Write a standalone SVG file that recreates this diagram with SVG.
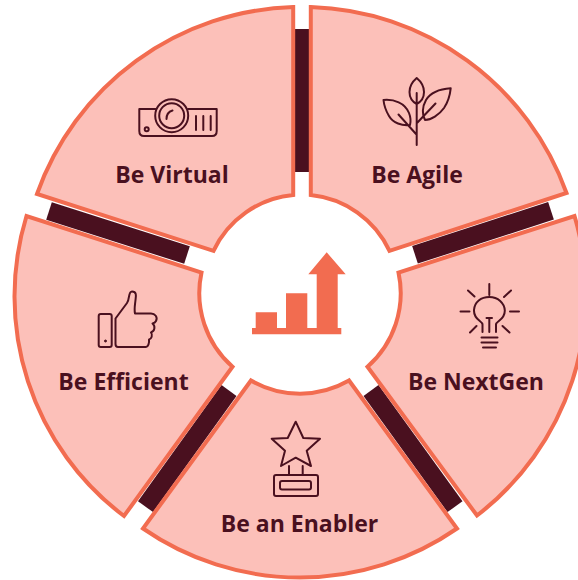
<svg xmlns="http://www.w3.org/2000/svg" width="578" height="580" viewBox="0 0 578 580">
<style>
.seg{fill:#fcc0b9;stroke:#f26c50;stroke-width:4;stroke-linejoin:miter}
.bar{stroke:#4a101f;stroke-width:18.500;fill:none}
.ic{fill:none;stroke:#4a101f;stroke-width:2;stroke-linecap:round;stroke-linejoin:round}
.lb{font-family:"Open Sans","Noto Sans",sans-serif;font-weight:700;font-size:23px;fill:#4a101f;text-anchor:middle}
.c{fill:#f26c50}
</style>
<rect width="578" height="580" fill="#fff"/>
<g id="connectors">
<line class="bar" x1="302" y1="172" x2="302" y2="29"/>
<line class="bar" x1="415" y1="254.800" x2="551" y2="210.800"/>
<line class="bar" x1="371" y1="390.500" x2="455" y2="506.700"/>
<line class="bar" x1="229" y1="390.500" x2="145.500" y2="506.700"/>
<line class="bar" x1="187" y1="255" x2="49" y2="211"/>
</g>
<g id="agile">
<path class="seg" d="M310.800 7A281 281 0 0 1 566.500 193L389.500 250.800A98 98 0 0 0 310.800 195Z"/>
<path class="ic" d="M416.700 93V145M416.700 78C412 82 409.500 87 409.500 92C409.500 98 413 102 416.700 104C420.500 102 424 98 424 92C424 87 421.500 82 416.700 78ZM383.500 100C394 99 405 103 409 113C411 118 410.500 123 410 125C402 126 393 123 389 116C386 111 384 105 383.500 100ZM398.500 114.500L416 134M450.700 88.300C440 89 431 92 426 100C422 107 422 115 425 120C431 120 439 115 444 108C448 102 450 95 450.700 88.300ZM435.500 103.500L417 123"/>
<text class="lb" x="417" y="183">Be Agile</text>
</g>
<g id="nextgen">
<path class="seg" d="M574.500 216A278 278 0 0 1 477 515.500L367.500 366.700A98 98 0 0 0 398.500 272.500Z"/>
<path class="ic" d="M489.300 284V295M468 290.500L474.500 296.500M504 297L511 290.500M460.500 311.500H469.500M510 311.500H519M470 332.500L476.500 326M502.500 326L509.500 332.500M482.500 332V324.500C482.500 321 473.500 320 474 310C474.500 302 481 297 489.300 297C498 297 504.500 303 504.800 310.500C505 320 496 321 496 324.500V332M489.300 318V332M486.500 318H492M481.500 337.500H497.500M481.500 342.500H497.500M483 347.500H496"/>
<text class="lb" x="476" y="390">Be NextGen</text>
</g>
<g id="enabler">
<path class="seg" d="M457 528.500A276 276 0 0 1 143 528.500L251 380.500A98 98 0 0 0 349 380.500Z"/>
<path class="ic" d="M295.700 421.700L303.300 438L320 438.700L306.700 450.700L311 466L295.700 457.700L281 466L285 450.700L271.700 438.700L287.700 438ZM289 466V475M302.700 466V475"/>
<rect class="ic" x="274" y="475" width="44" height="21" rx="2"/>
<rect class="ic" x="280" y="481" width="31" height="8.500" rx="2"/>
<text class="lb" x="299.500" y="532">Be an Enabler</text>
</g>
<g id="efficient">
<path class="seg" d="M124 516A275 275 0 0 1 26.500 216L201.500 272.500A98 98 0 0 0 232.500 366.700Z"/>
<rect class="ic" x="98.700" y="314" width="13" height="33" rx="2"/>
<circle cx="105.500" cy="341" r="1" fill="#4a101f" stroke="#4a101f"/>
<path class="ic" d="M115.500 318.500L127 303C130 299 128 291.500 132 291.500C137 291.500 136 296 135.500 300C135 305 134 309 135 313.500H151C155 313.500 158 317 156 321C155 323 152.500 323.500 152.500 323.500C155.500 326 155 331 151 332.500C153 335 151.500 339 149 339.500C149.500 343 148 347 146 347H118C116 347 115.500 345.500 115.500 344Z"/>
<text class="lb" x="123.500" y="390">Be Efficient</text>
</g>
<g id="virtual">
<path class="seg" d="M37 194A281 281 0 0 1 293.200 7V195A98 98 0 0 0 213.500 250.800Z"/>
<path class="ic" d="M155.500 109H139.300V131C139.300 134 141 136 144 136H212C215 136 216.700 134 216.700 131V109H188M196 116V130M203.300 116V130M210.700 116V130"/>
<circle class="ic" cx="171.700" cy="115.700" r="16.500"/>
<circle class="ic" cx="171.700" cy="115.700" r="12.500"/>
<path class="ic" d="M166.500 119C166.500 114.500 169 111.500 172.500 110.500"/>
<circle class="ic" cx="146.700" cy="129.300" r="2"/>
<text class="lb" x="172" y="183">Be Virtual</text>
</g>
<g id="center">
<path class="c" d="M255.700 312.300H277V328H286V293.300H307.300V328H316.700V274.300H308.300L326.700 252.300L345.700 274.300H337.700V328H341.300V334.300H252V328H255.700Z"/>
</g>
</svg>
